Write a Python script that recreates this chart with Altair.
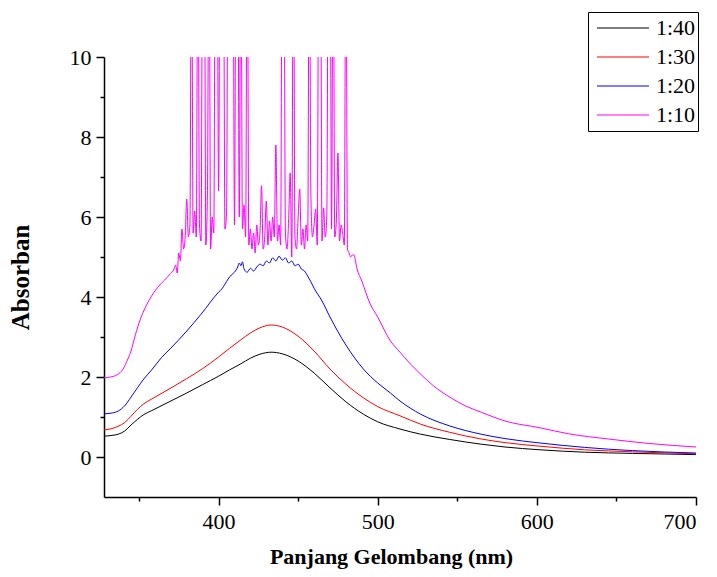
import altair as alt
import pandas as pd

series_names = ["1:40", "1:30", "1:20", "1:10"]
series_colors = ["#000000", "#FF0000", "#0000FF", "#FF00FF"]

# 1:40 (black)
wl_140 = [328, 333, 337, 341, 345, 349, 353, 358, 365, 372, 380, 390, 400, 407, 414, 420, 426, 433, 440, 450,
          460, 470, 480, 491, 500, 514, 527, 545, 565, 580, 602, 630, 660, 700]
ab_140 = [0.52, 0.54, 0.57, 0.65, 0.8, 0.94, 1.06, 1.16, 1.3, 1.44, 1.6, 1.81, 2.02, 2.18, 2.33, 2.47, 2.57, 2.62, 2.58, 2.40,
          2.10, 1.73, 1.38, 1.07, 0.88, 0.70, 0.57, 0.44, 0.32, 0.25, 0.18, 0.12, 0.09, 0.06]

# 1:30 (red)
wl_130 = wl_140
ab_130 = [0.68, 0.71, 0.77, 0.86, 1.02, 1.19, 1.33, 1.45, 1.61, 1.77, 1.96, 2.21, 2.5, 2.72, 2.93, 3.1, 3.23, 3.30, 3.25, 3.02,
          2.65, 2.20, 1.82, 1.48, 1.26, 1.03, 0.82, 0.62, 0.45, 0.36, 0.27, 0.18, 0.13, 0.08]

# 1:20 (blue)
wl_120 = [328, 333, 337, 341, 345, 349, 353, 358, 364, 370, 380, 389,
          400, 402, 404, 406, 408, 410, 412, 413, 414, 415,
          416, 418, 420, 422, 424, 426, 428, 430, 432, 434, 436, 438, 440, 442, 444, 446, 448, 450, 452, 454,
          456, 458, 460, 465, 470, 480, 491, 500, 508, 514, 527, 545, 565, 580, 602, 630, 660, 700]
ab_120 = [1.08, 1.1, 1.15, 1.28, 1.5, 1.73, 1.95, 2.18, 2.48, 2.72, 3.15, 3.57,
          4.12, 4.2, 4.32, 4.45, 4.55, 4.62, 4.75, 4.85, 4.78, 4.88,
          4.7, 4.62, 4.72, 4.65, 4.75, 4.82, 4.78, 4.9, 4.85, 4.98, 4.9, 5.02, 4.92, 4.98, 4.85, 4.9, 4.78, 4.82, 4.7, 4.65,
          4.52, 4.38, 4.22, 3.9, 3.5, 2.8, 2.2, 1.85, 1.6, 1.4, 1.07, 0.78, 0.57, 0.46, 0.35, 0.24, 0.16, 0.10]

# 1:10 (magenta): smooth left part, noisy saturated part (1 nm steps, 373-484), smooth right part
wl_110_left = [328, 332, 336, 340, 343, 345, 347, 350, 355, 360, 363, 366, 369, 372]
ab_110_left = [1.98, 2.0, 2.05, 2.2, 2.45, 2.65, 2.95, 3.35, 3.82, 4.15, 4.3, 4.42, 4.55, 4.7]
wl_110_noisy = list(range(373, 485))
ab_110_noisy = [4.8, 4.6, 5.1, 4.9, 5.7, 5.2, 5.5, 6.45, 5.5, 5.8,
                14, 5.6, 6.15, 5.5, 14, 5.8, 5.4, 14, 14, 5.3,
                6.57, 14, 5.2, 6.0, 5.6, 14, 14, 6.65, 14, 14,
                14, 5.7, 6.1, 14, 14, 14, 14, 5.8, 14, 14,
                6.0, 14, 5.7, 6.3, 5.5, 14,
                5.3, 5.7, 5.2, 5.6, 5.1, 5.8, 5.3, 5.6, 6.78, 5.2,
                5.5, 6.4, 5.3, 5.9, 5.4, 6.0, 5.5, 7.8, 5.4, 5.8,
                5.3, 14, 14, 5.6, 5.2, 5.9, 7.1, 5.0, 14, 5.5,
                5.2, 6.0, 6.7, 5.3, 5.7, 5.2, 5.8, 5.4, 14, 6.57,
                5.5, 5.8, 6.2, 5.3, 14, 14, 5.4, 6.23, 5.5, 6.0,
                14, 14, 5.7, 14, 5.5, 5.9, 7.6, 5.4, 5.8, 5.6,
                5.3, 14, 5.2, 5.1, 5.0, 5.05]
wl_110_right = [485, 487, 490, 495, 500, 508, 514, 520, 527, 535, 546, 555, 565, 580, 602, 620, 645, 670, 700]
ab_110_right = [5.05, 4.7, 4.4, 3.85, 3.5, 2.9, 2.62, 2.35, 2.07, 1.78, 1.48, 1.28, 1.12, 0.9, 0.73, 0.58, 0.45, 0.34, 0.25]

wl_110 = wl_110_left + wl_110_noisy + wl_110_right
ab_110 = ab_110_left + ab_110_noisy + ab_110_right

x_ticks = [350, 400, 450, 500, 550, 600, 650, 700]
y_ticks = [0, 1, 2, 3, 4, 5, 6, 7, 8, 9, 10]

rows = []
for name, wl, ab in [("1:40", wl_140, ab_140), ("1:30", wl_130, ab_130),
                     ("1:20", wl_120, ab_120), ("1:10", wl_110, ab_110)]:
    for i, (w, a) in enumerate(zip(wl, ab)):
        rows.append({"series": name, "wl": w, "ab": a, "order": i})
df = pd.DataFrame(rows)

FONT = "Liberation Serif"

chart = alt.Chart(df).mark_line(strokeWidth=1, clip=True, interpolate="monotone").encode(
    x=alt.X("wl:Q",
            scale=alt.Scale(domain=[328, 700], nice=False, zero=False),
            axis=alt.Axis(values=x_ticks,
                          labelExpr="datum.value % 100 == 0 ? datum.label : ''",
                          tickSize={"condition": {"test": "datum.value % 100 == 0", "value": 8}, "value": 4},
                          title="Panjang Gelombang (nm)", titleX=287,
                          labelPadding=6, titlePadding=14)),
    y=alt.Y("ab:Q",
            scale=alt.Scale(domain=[-1, 10], nice=False, zero=False),
            axis=alt.Axis(values=y_ticks,
                          labelExpr="datum.value % 2 == 0 ? datum.label : ''",
                          tickSize={"condition": {"test": "datum.value % 2 == 0", "value": 8}, "value": 4},
                          title="Absorban", titleFontSize=25,
                          labelPadding=5, titlePadding=36)),
    color=alt.Color("series:N",
                    scale=alt.Scale(domain=series_names, range=series_colors),
                    legend=alt.Legend(title=None, orient="none", legendX=484, legendY=-45,
                                      symbolType="stroke", symbolSize=2704, symbolStrokeWidth=1.2,
                                      symbolOffset=6, clipHeight=28,
                                      labelFont=FONT, labelFontSize=22, labelColor="black",
                                      labelOffset=6, strokeColor="black", padding=2, rowPadding=1)),
    detail="series:N",
    order="order:Q",
).properties(
    width=592, height=440,
    autosize=alt.AutoSizeParams(type="none"),
    padding={"left": 96, "top": 49, "right": 13, "bottom": 72},
).configure_axis(
    grid=False,
    domainColor="black", domainWidth=1.5,
    tickColor="black", tickWidth=1.5,
    labelFont=FONT, labelFontSize=22, labelColor="black",
    titleFont=FONT, titleFontSize=22, titleFontWeight="bold", titleColor="black",
).configure_view(strokeWidth=0)

chart.save("out.html", embed_options={"renderer": "svg", "actions": False})
